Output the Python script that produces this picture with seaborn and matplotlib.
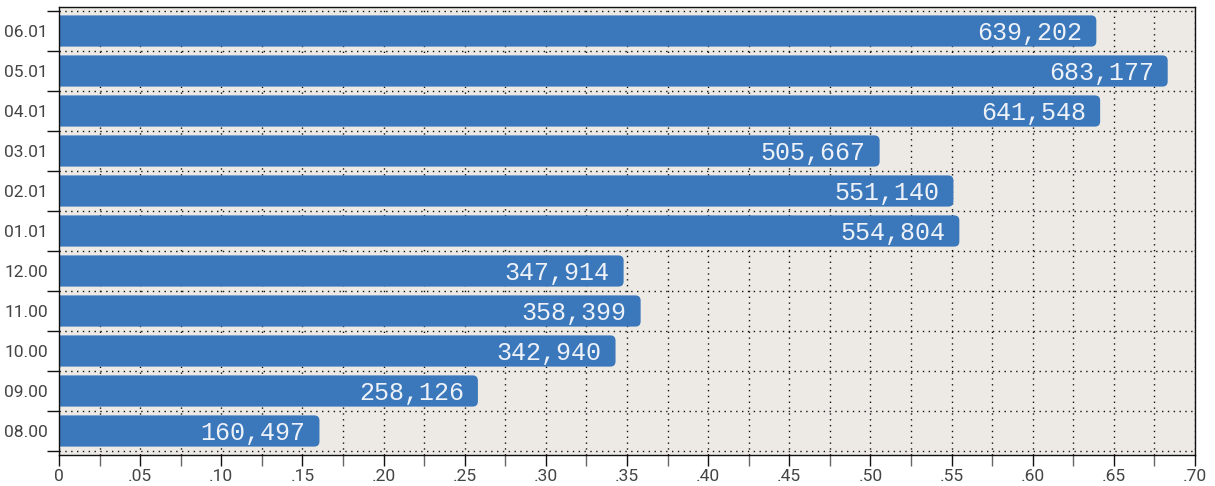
import numpy as np
import pandas as pd
import matplotlib
matplotlib.use("Agg")
import matplotlib.pyplot as plt
from matplotlib.patches import FancyBboxPatch
from matplotlib.ticker import FixedLocator, MultipleLocator
import seaborn as sns

# ---- data ----
categories = ["06.01", "05.01", "04.01", "03.01", "02.01", "01.01",
              "12.00", "11.00", "10.00", "09.00", "08.00"]
values = [639202, 683177, 641548, 505667, 551140, 554804,
          347914, 358399, 342940, 258126, 160497]
x_ticks = [0.0, 0.05, 0.10, 0.15, 0.20, 0.25, 0.30, 0.35,
           0.40, 0.45, 0.50, 0.55, 0.60, 0.65, 0.70]
x_tick_labels = ["0", ".05", ".10", ".15", ".20", ".25", ".30", ".35",
                 ".40", ".45", ".50", ".55", ".60", ".65", ".70"]

df = pd.DataFrame({"period": categories, "value": values})
df["millions"] = df["value"] / 1e6

sns.set_theme(style="white")
plt.rcParams["font.family"] = ["Roboto", "DejaVu Sans"]

BAR = "#3b78bb"
BG = "#edeae6"
TXT = "#444444"

fig = plt.figure(figsize=(12.15, 4.86), dpi=100)
ax = fig.add_axes([59 / 1215, 31 / 486, 1136 / 1215, 448 / 486])
ax.set_facecolor(BG)

sns.barplot(data=df, x="millions", y="period", orient="h", color=BAR,
            saturation=1, width=0.78, order=categories, ax=ax)

ax.set_xlim(0, 0.70)
ax.set_ylim(len(categories) - 0.4, -0.6)

# rounded right corners for bars
aspect = (11.2 / 448) / (0.70 / 1136)
for p in list(ax.patches):
    x, y = p.get_x(), p.get_y()
    w, h = p.get_width(), p.get_height()
    p.remove()
    fb = FancyBboxPatch((x - 0.02, y), w + 0.02, h,
                        boxstyle="round,pad=0,rounding_size=0.0032",
                        mutation_aspect=aspect, facecolor=BAR,
                        edgecolor="none", zorder=2)
    ax.add_patch(fb)

# value labels
for i, v in enumerate(values):
    ax.annotate(f"{v:,}", xy=(v / 1e6, i), xytext=(-10, -1.5),
                textcoords="offset points", ha="right", va="center",
                fontsize=18, color="#eef2f8", family="Liberation Mono",
                zorder=3)

# axes decoration
ax.set_xlabel("")
ax.set_ylabel("")
ax.xaxis.set_major_locator(FixedLocator(x_ticks))
ax.set_xticklabels(x_tick_labels)
ax.xaxis.set_minor_locator(MultipleLocator(0.025))
ax.yaxis.set_minor_locator(FixedLocator(np.arange(-0.5, len(categories), 1.0)))

ax.tick_params(axis="x", which="major", direction="out", length=8,
               width=1, color="#111111", bottom=True, labelsize=12.5,
               labelcolor=TXT, pad=2)
ax.tick_params(axis="x", which="minor", direction="out", length=8,
               width=1, color="#666666", bottom=True)
ax.tick_params(axis="y", which="major", length=0, labelsize=12.5,
               labelcolor=TXT, pad=8)
ax.tick_params(axis="y", which="minor", direction="out", length=9,
               width=1, color="#111111", left=True)

ax.set_axisbelow(True)
ax.grid(True, axis="x", which="both", color="#111111", linewidth=1.0,
        linestyle=(0, (1, 3.2)))
ax.grid(True, axis="y", which="minor", color="#111111", linewidth=1.0,
        linestyle=(0, (1, 3.2)))
ax.grid(False, axis="y", which="major")

for s in ax.spines.values():
    s.set_visible(True)
    s.set_color("#111111")
    s.set_linewidth(1.0)

fig.savefig("out.png", dpi=100)
